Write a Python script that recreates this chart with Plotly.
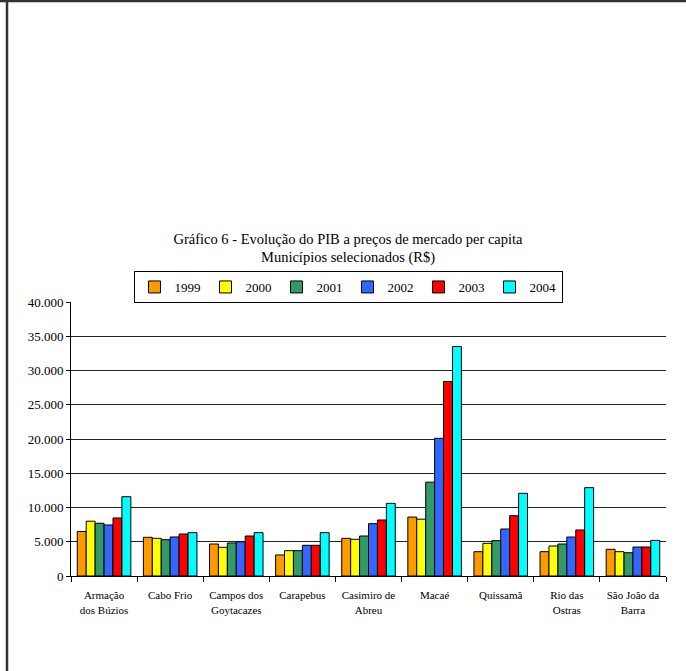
import plotly.graph_objects as go

categories = ["Armação<br>dos Búzios", "Cabo Frio", "Campos dos<br>Goytacazes", "Carapebus",
              "Casimiro de<br>Abreu", "Macaé", "Quissamã", "Rio das<br>Ostras", "São João da<br>Barra"]
years = ["1999", "2000", "2001", "2002", "2003", "2004"]

v1999 = [6500, 5650, 4670, 3070, 5500, 8600, 3550, 3550, 3900]
v2000 = [8000, 5500, 4190, 3700, 5360, 8300, 4770, 4380, 3550]
v2001 = [7700, 5300, 4820, 3700, 5840, 13700, 5160, 4670, 3400]
v2002 = [7450, 5700, 5000, 4480, 7640, 20100, 6860, 5690, 4230]
v2003 = [8470, 6130, 5840, 4480, 8180, 28400, 8800, 6720, 4230]
v2004 = [11580, 6330, 6330, 6330, 10600, 33500, 12070, 12900, 5200]
series = [v1999, v2000, v2001, v2002, v2003, v2004]

colors = ["#FF9900", "#FFFF00", "#339966", "#3366FF", "#FF0000", "#00FFFF"]

W, H = 686, 671
ML, MR, MT, MB = 71, 20, 302, 95
pw = W - ML - MR
ph = H - MT - MB

def px_x(x):
    return (x - ML) / pw

def px_y(y):
    return (H - MB - y) / ph

serif = "Liberation Serif"

fig = go.Figure()
for name, vals, col in zip(years, series, colors):
    fig.add_trace(go.Bar(
        x=categories, y=vals, name=name,
        marker=dict(color=col, line=dict(color="black", width=1)),
    ))

fig.update_layout(
    width=W, height=H,
    margin=dict(l=ML, r=MR, t=MT, b=MB),
    paper_bgcolor="white", plot_bgcolor="white",
    barmode="group", bargap=0.19, bargroupgap=0,
    separators=",.",
    font=dict(family=serif, size=12, color="black"),
    title=dict(
        text="Gráfico 6 - Evolução do PIB a preços de mercado per capita<br>Municípios selecionados (R$)",
        font=dict(family=serif, size=14.5, color="black"),
        x=348 / W, xref="container", xanchor="center",
        y=1 - 243.5 / H, yref="container", yanchor="middle",
    ),
    legend=dict(
        orientation="h",
        x=px_x(348), y=px_y(287), xanchor="center", yanchor="middle",
        bordercolor="black", borderwidth=1, bgcolor="white",
        font=dict(family=serif, size=13, color="black"),
        itemwidth=30, tracegroupgap=0,
    ),
    xaxis=dict(
        showline=True, linecolor="black", linewidth=1,
        ticks="outside", tickson="boundaries", ticklen=5, tickcolor="black",
        tickfont=dict(family=serif, size=11, color="black"),
        ticklabelstandoff=9,
        showgrid=False,
    ),
    yaxis=dict(
        range=[0, 40000], dtick=5000, tickformat=",d",
        showline=True, linecolor="black", linewidth=1,
        ticks="outside", ticklen=4, tickcolor="black",
        tickfont=dict(family=serif, size=13, color="black"),
        showgrid=True, gridcolor="#222222", gridwidth=1,
        zeroline=False,
    ),
    shapes=[
        dict(type="line", xref="paper", yref="paper",
             x0=px_x(0), x1=px_x(W), y0=px_y(1), y1=px_y(1),
             line=dict(color="#333333", width=2.5)),
        dict(type="line", xref="paper", yref="paper",
             x0=px_x(7), x1=px_x(7), y0=px_y(0), y1=px_y(H),
             line=dict(color="#333333", width=2.5)),
    ],
)

fig.write_html("out.html")
